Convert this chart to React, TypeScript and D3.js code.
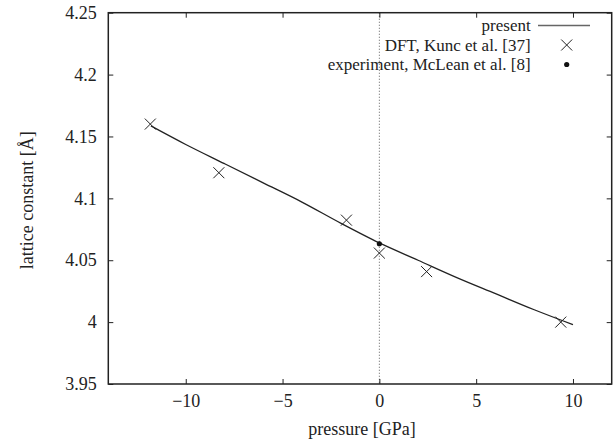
import React, { useEffect, useRef } from 'react';
import * as d3 from 'd3';

// "present" calculation (smooth curve)
const presentP = [-11.8, -10, -8, -6, -4, -2, 0, 2, 4, 6, 8, 10];
const presentA = [4.1585, 4.1435, 4.128, 4.1125, 4.097, 4.08, 4.064, 4.05, 4.036, 4.023, 4.01, 3.998];

// DFT, Kunc et al.
const dftP = [-11.83, -8.29, -1.7, 0, 2.44, 9.37];
const dftA = [4.16, 4.1207, 4.0824, 4.0558, 4.0408, 4.0];

// experiment, McLean et al.
const expP = [0];
const expA = [4.0633];

const xTicks = [-10, -5, 0, 5, 10];
const yTicks = [3.95, 4, 4.05, 4.1, 4.15, 4.2, 4.25];
const legendLabels = ['present', 'DFT, Kunc et al. [37]', 'experiment, McLean et al. [8]'];

export default function App() {
  const svgRef = useRef<SVGSVGElement>(null);

  useEffect(() => {
    const W = 615, H = 444;
    const margin = { top: 12.7, right: 3.3, bottom: 60, left: 108.3 };
    const width = W - margin.left - margin.right;
    const height = H - margin.top - margin.bottom;
    const font = '"Liberation Serif", "Times New Roman", serif';
    const fs = 18;

    const svg = d3.select(svgRef.current);
    svg.selectAll('*').remove();
    svg.attr('width', W).attr('height', H);

    const g = svg.append('g').attr('transform', `translate(${margin.left}, ${margin.top})`);

    const x = d3.scaleLinear().domain([-14, 12]).range([0, width]);
    const y = d3.scaleLinear().domain([3.95, 4.25]).range([height, 0]);

    // zero pressure dotted line
    g.append('line')
      .attr('x1', x(0)).attr('x2', x(0))
      .attr('y1', 0).attr('y2', height)
      .attr('stroke', '#555').attr('stroke-width', 0.8)
      .attr('stroke-dasharray', '1.2,1.8');

    const fmtY = (d: any) => String(Math.round(d * 100) / 100);

    const styleAxis = (sel: any) => {
      sel.select('.domain').remove();
      sel.selectAll('line').attr('stroke', '#222').attr('stroke-width', 1);
      sel.selectAll('text').attr('font-family', font).attr('font-size', fs).attr('fill', '#222');
    };

    g.append('g').attr('transform', `translate(0, ${height})`)
      .call(d3.axisBottom(x).tickValues(xTicks).tickSize(-5).tickPadding(10).tickFormat(d3.format('d') as any))
      .call(styleAxis);
    g.append('g')
      .call(d3.axisTop(x).tickValues(xTicks).tickSize(-5).tickFormat(() => ''))
      .call(styleAxis);
    g.append('g')
      .call(d3.axisLeft(y).tickValues(yTicks).tickSize(-5).tickPadding(11.5).tickFormat(fmtY as any))
      .call(styleAxis);
    g.append('g').attr('transform', `translate(${width}, 0)`)
      .call(d3.axisRight(y).tickValues(yTicks).tickSize(-5).tickFormat(() => ''))
      .call(styleAxis);

    // frame
    g.append('rect')
      .attr('width', width).attr('height', height)
      .attr('fill', 'none').attr('stroke', '#222').attr('stroke-width', 1.5);

    // present curve
    const line = d3.line<number>()
      .x((_, i) => x(presentP[i]))
      .y(d => y(d))
      .curve(d3.curveMonotoneX);
    g.append('path')
      .datum(presentA)
      .attr('d', line)
      .attr('fill', 'none').attr('stroke', '#222').attr('stroke-width', 1.3);

    // DFT crosses
    const cs = 5.5;
    const crossPath = (cx: number, cy: number) =>
      `M${cx - cs},${cy - cs}L${cx + cs},${cy + cs}M${cx - cs},${cy + cs}L${cx + cs},${cy - cs}`;
    g.selectAll('.dft').data(dftA).enter().append('path')
      .attr('class', 'dft')
      .attr('d', (d, i) => crossPath(x(dftP[i]), y(d)))
      .attr('stroke', '#222').attr('stroke-width', 1).attr('fill', 'none');

    // experiment
    g.selectAll('.exp').data(expA).enter().append('circle')
      .attr('cx', (_, i) => x(expP[i])).attr('cy', d => y(d))
      .attr('r', 2.6).attr('fill', '#111');

    // legend
    const lg = svg.append('g').attr('font-family', font).attr('font-size', 17).attr('fill', '#222');
    const ly = [25.5, 45, 64.5];
    legendLabels.forEach((t, i) => {
      lg.append('text').attr('x', 530.7).attr('y', ly[i]).attr('dy', '0.35em')
        .attr('text-anchor', 'end').text(t);
    });
    lg.append('line').attr('x1', 538).attr('x2', 590).attr('y1', ly[0]).attr('y2', ly[0])
      .attr('stroke', '#666').attr('stroke-width', 1.3);
    lg.append('path').attr('d', crossPath(566.7, ly[1])).attr('stroke', '#222').attr('stroke-width', 1);
    lg.append('circle').attr('cx', 566.7).attr('cy', ly[2]).attr('r', 2.6).attr('fill', '#111');

    // axis titles
    svg.append('text')
      .attr('x', margin.left + width / 2 + 2).attr('y', 434.7)
      .attr('text-anchor', 'middle').attr('font-family', font).attr('font-size', fs).attr('fill', '#222')
      .text('pressure [GPa]');
    svg.append('text')
      .attr('transform', `translate(33, ${margin.top + height / 2 + 2}) rotate(-90)`)
      .attr('text-anchor', 'middle').attr('font-family', font).attr('font-size', fs).attr('fill', '#222')
      .text('lattice constant [Å]');
  }, []);

  return (
    <div style={{ position: 'absolute', left: 0, top: 0 }}>
      <svg ref={svgRef}></svg>
    </div>
  );
}
